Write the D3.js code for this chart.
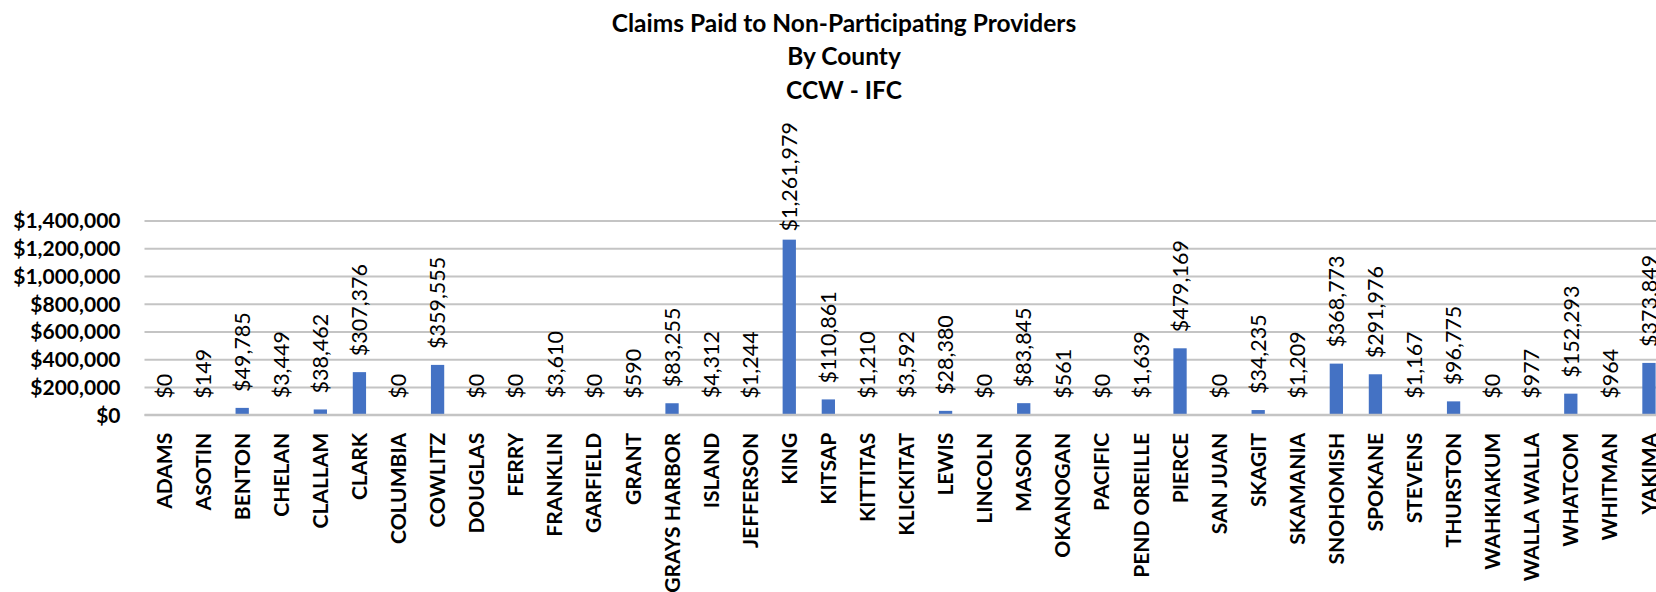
<!DOCTYPE html>
<html>
<head>
<meta charset="utf-8">
<script src="https://cdnjs.cloudflare.com/ajax/libs/d3/7.8.5/d3.min.js"></script>
<style>
  html, body { margin: 0; padding: 0; background: #ffffff; }
  svg { display: block; font-family: "Lato", "Liberation Sans", sans-serif; }
</style>
</head>
<body>
<svg id="chart" width="1656" height="592"></svg>
<script>
const counties = ["ADAMS","ASOTIN","BENTON","CHELAN","CLALLAM","CLARK","COLUMBIA","COWLITZ","DOUGLAS","FERRY","FRANKLIN","GARFIELD","GRANT","GRAYS HARBOR","ISLAND","JEFFERSON","KING","KITSAP","KITTITAS","KLICKITAT","LEWIS","LINCOLN","MASON","OKANOGAN","PACIFIC","PEND OREILLE","PIERCE","SAN JUAN","SKAGIT","SKAMANIA","SNOHOMISH","SPOKANE","STEVENS","THURSTON","WAHKIAKUM","WALLA WALLA","WHATCOM","WHITMAN","YAKIMA"];
const claimsPaid = [0,149,49785,3449,38462,307376,0,359555,0,0,3610,0,590,83255,4312,1244,1261979,110861,1210,3592,28380,0,83845,561,0,1639,479169,0,34235,1209,368773,291976,1167,96775,0,977,152293,964,373849];
const yTicks = [0,200000,400000,600000,800000,1000000,1200000,1400000];
const titleLines = ["Claims Paid to Non-Participating Providers","By County","CCW - IFC"];

const svg = d3.select("#chart");
const plot = {left: 144.5, right: 1668.5, top: 220.5, bottom: 414.8};

const x = d3.scaleBand().domain(counties).range([plot.left, plot.right]).paddingInner(0.66).paddingOuter(0.33);
const y = d3.scaleLinear().domain([0, 1400000]).range([plot.bottom, plot.top]);
const money = v => "$" + d3.format(",")(v);

// title
svg.append("g").selectAll("text").data(titleLines).join("text")
  .attr("x", 844).attr("y", (d, i) => 32 + i * 33.3)
  .attr("text-anchor", "middle")
  .attr("font-weight", "bold").attr("font-size", 24.5).attr("fill", "#000")
  .text(d => d);

// gridlines + y tick labels
const yAxis = d3.axisLeft(y).tickValues(yTicks).tickFormat(money).tickSize(0).tickPadding(0);
const gy = svg.append("g").attr("transform", `translate(${plot.left},0)`).call(yAxis);
gy.select(".domain").remove();
gy.selectAll(".tick line").attr("x2", 1656 - plot.left + 20).attr("stroke", "#c4c4c4").attr("stroke-width", 2);
gy.selectAll(".tick text").attr("x", -24).attr("dy", "0.35em")
  .attr("font-family", "Lato").attr("font-weight", "bold").attr("font-size", 21).attr("fill", "#000");

// bars
svg.append("g").selectAll("rect").data(counties).join("rect")
  .attr("x", d => x(d)).attr("width", x.bandwidth())
  .attr("y", (d, i) => y(claimsPaid[i]))
  .attr("height", (d, i) => y(0) - y(claimsPaid[i]))
  .attr("fill", "#4472C4");

// x axis line on top of bars
svg.append("line").attr("x1", plot.left).attr("x2", 1656).attr("y1", y(0)).attr("y2", y(0))
  .attr("stroke", "#c4c4c4").attr("stroke-width", 2);

// category labels
const xAxis = d3.axisBottom(x).tickSize(0).tickPadding(0);
const gx = svg.append("g").attr("transform", `translate(0,${y(0)})`).call(xAxis);
gx.select(".domain").remove();
gx.selectAll(".tick text")
  .attr("transform", "rotate(-90)")
  .attr("x", -18).attr("y", 0).attr("dy", "0.36em")
  .attr("text-anchor", "end")
  .attr("font-family", "Lato").attr("font-weight", "bold").attr("font-size", 21).attr("fill", "#000");

// data labels
const labels = svg.append("g").selectAll("text").data(counties).join("text")
  .attr("text-anchor", "start")
  .attr("font-size", 21.5).attr("fill", "#000")
  .text((d, i) => money(claimsPaid[i]));
labels.each(function(d, i) {
  const len = this.getComputedTextLength();
  const cx = x(d) + x.bandwidth() / 2;
  const base = Math.max(y(claimsPaid[i]) - 16, 122 + len);
  d3.select(this).attr("transform", `translate(${cx},${base}) rotate(-90)`).attr("dy", "0.36em");
});
</script>
</body>
</html>
